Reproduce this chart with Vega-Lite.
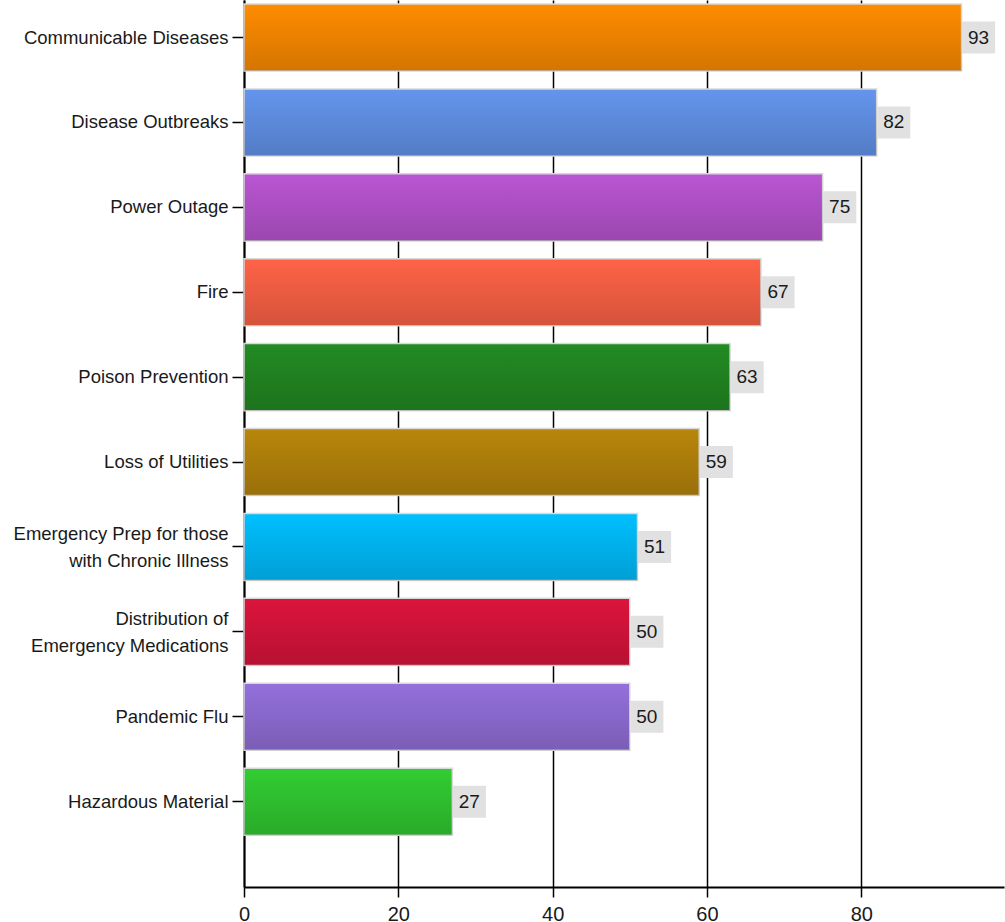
{
  "$schema": "https://vega.github.io/schema/vega-lite/v6.json",
  "width": 760,
  "height": 887,
  "autosize": {"type": "none"},
  "padding": {"left": 244, "top": 0, "right": 1, "bottom": 35},
  "background": "white",
  "config": {"view": {"stroke": null}, "font": "Liberation Sans, Arial, sans-serif"},
  "data": {
    "values": [
      {"cat": "Communicable Diseases", "value": 93},
      {"cat": "Disease Outbreaks", "value": 82},
      {"cat": "Power Outage", "value": 75},
      {"cat": "Fire", "value": 67},
      {"cat": "Poison Prevention", "value": 63},
      {"cat": "Loss of Utilities", "value": 59},
      {"cat": "Emergency Prep for those|with Chronic Illness", "value": 51},
      {"cat": "Distribution of|Emergency Medications", "value": 50},
      {"cat": "Pandemic Flu", "value": 50},
      {"cat": "Hazardous Material", "value": 27}
    ]
  },
  "encoding": {
    "y": {
      "field": "cat",
      "type": "nominal",
      "sort": null,
      "scale": {"paddingInner": 0.21, "paddingOuter": 0.3285, "align": 0.0717},
      "axis": {
        "title": null,
        "domain": true,
        "domainColor": "black",
        "domainWidth": 2,
        "ticks": true,
        "tickColor": "black",
        "tickSize": 12,
        "tickWidth": 1.5,
        "labelFontSize": 18.5,
        "labelColor": "#1a1a1a",
        "labelPadding": 4,
        "labelLineHeight": 27,
        "labelLimit": 320,
        "labelExpr": "split(datum.value, '|')",
        "labelOffset": {"condition": {"test": "indexof(datum.value, '|') >= 0", "value": -13}, "value": 0}
      }
    },
    "x": {
      "field": "value",
      "type": "quantitative",
      "scale": {"domain": [0, 98.5], "nice": false, "zero": true},
      "axis": {
        "title": null,
        "values": [0, 20, 40, 60, 80],
        "grid": true,
        "gridColor": "black",
        "gridWidth": 1.5,
        "gridOpacity": 1,
        "domainColor": "black",
        "domainWidth": 2,
        "tickColor": "black",
        "tickSize": 10,
        "tickWidth": 1.5,
        "labelFontSize": 20,
        "labelColor": "#1a1a1a",
        "labelPadding": 7,
        "labelFlush": false
      }
    }
  },
  "layer": [
    {
      "mark": {"type": "bar", "stroke": "#d9d9d9", "strokeWidth": 1.5},
      "encoding": {
        "color": {
          "field": "cat",
          "type": "nominal",
          "legend": null,
          "scale": {
            "domain": ["Communicable Diseases", "Disease Outbreaks", "Power Outage", "Fire", "Poison Prevention", "Loss of Utilities", "Emergency Prep for those|with Chronic Illness", "Distribution of|Emergency Medications", "Pandemic Flu", "Hazardous Material"],
            "range": ["#ff8c00", "#6495ed", "#ba55d3", "#ff6347", "#228b22", "#b8860b", "#00bfff", "#dc143c", "#9370db", "#32cd32"]
          }
        }
      }
    },
    {
      "mark": {
        "type": "bar",
        "fill": {
          "gradient": "linear",
          "x1": 0, "y1": 0, "x2": 0, "y2": 1,
          "stops": [
            {"offset": 0, "color": "rgba(0,0,0,0)"},
            {"offset": 1, "color": "rgba(0,0,0,0.17)"}
          ]
        }
      }
    },
    {
      "mark": {
        "type": "point",
        "shape": "M0.03,-1 L2.1,-1 L2.1,1 L0.03,1 Z",
        "size": 1024,
        "filled": true,
        "fill": "#e1e1e1",
        "opacity": 1,
        "strokeWidth": 0
      }
    },
    {
      "mark": {"type": "text", "align": "center", "baseline": "middle", "dx": 17, "fontSize": 19, "color": "#1a1a1a"},
      "encoding": {"text": {"field": "value", "type": "quantitative"}}
    }
  ]
}
